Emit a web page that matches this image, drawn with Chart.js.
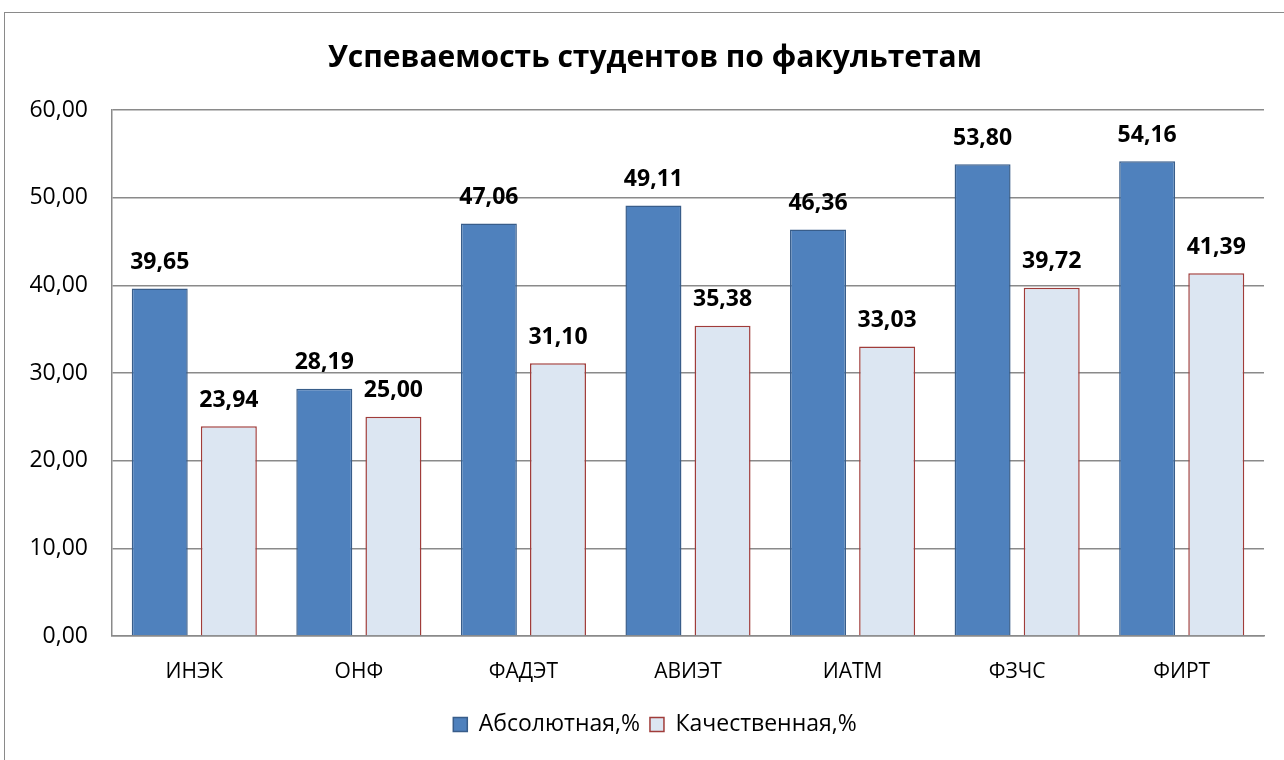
<!DOCTYPE html>
<html lang="ru">
<head>
<meta charset="utf-8">
<title>Успеваемость студентов по факультетам</title>
<script src="https://cdn.jsdelivr.net/npm/chart.js@4"></script>
<style>
    html, body { margin: 0; padding: 0; background: #fff; overflow: hidden; }
    #frame {
        position: absolute; left: 4px; top: 12px;
        width: 1302px; height: 800px;
        border: 1.5px solid #8a8a8a;
        box-sizing: border-box;
    }
    #wrap { position: absolute; left: 0; top: 0; width: 1310px; height: 760px; }
</style>
</head>
<body>
<div id="frame"></div>
<div id="wrap"><canvas id="chart" width="1310" height="760"></canvas></div>
<script>
// ── Data ──
const faculties = ['ИНЭК', 'ОНФ', 'ФАДЭТ', 'АВИЭТ', 'ИАТМ', 'ФЗЧС', 'ФИРТ'];
const absolute = [39.65, 28.19, 47.06, 49.11, 46.36, 53.80, 54.16];
const quality = [23.94, 25.00, 31.10, 35.38, 33.03, 39.72, 41.39];
const seriesNames = ['Абсолютная,%', 'Качественная,%'];
const chartTitle = 'Успеваемость студентов по факультетам';

const FONT = "'Open Sans', 'Noto Sans', sans-serif";
const fmt = v => v.toFixed(2).replace('.', ',');

// ── Value labels above bars ──
const valueLabels = {
    id: 'valueLabels',
    afterDatasetsDraw(chart) {
        const ctx = chart.ctx;
        ctx.save();
        ctx.font = `bold 23px ${FONT}`;
        ctx.fillStyle = '#000';
        ctx.textAlign = 'center';
        ctx.textBaseline = 'middle';
        chart.data.datasets.forEach((ds, i) => {
            chart.getDatasetMeta(i).data.forEach((bar, j) => {
                ctx.fillText(fmt(ds.data[j]), bar.x, bar.y - 26);
            });
        });
        ctx.restore();
    }
};

new Chart(document.getElementById('chart'), {
    type: 'bar',
    data: {
        labels: faculties,
        datasets: [
            {
                label: seriesNames[0],
                data: absolute,
                backgroundColor: '#4f81bd',
                borderColor: '#385d8a',
                borderWidth: 1.5
            },
            {
                label: seriesNames[1],
                data: quality,
                backgroundColor: '#dce6f2',
                borderColor: '#a03c3a',
                borderWidth: 1.5
            }
        ]
    },
    options: {
        responsive: false,
        animation: false,
        layout: { padding: { left: 0, right: 0, top: 0, bottom: 14 } },
        datasets: {
            bar: { categoryPercentage: 0.84, barPercentage: 0.81 }
        },
        scales: {
            x: {
                grid: { display: false, drawTicks: false },
                border: { display: true, color: '#8a8a8a', width: 1.5 },
                ticks: { color: '#000', font: { family: FONT, size: 21 }, padding: 23 },
                afterFit(scale) { scale.height = 67; }
            },
            y: {
                min: 0,
                max: 60,
                grid: { color: '#8a8a8a', lineWidth: 1.5, drawTicks: false },
                border: { display: true, color: '#8a8a8a', width: 1.5 },
                ticks: {
                    stepSize: 10,
                    color: '#000',
                    font: { family: FONT, size: 23 },
                    padding: 24,
                    callback: v => fmt(v)
                },
                afterFit(scale) { scale.width = 112; }
            },
            // empty right-hand spacer so title and legend stay centred on the whole frame
            spacer: {
                type: 'linear',
                position: 'right',
                grid: { display: false, drawTicks: false },
                border: { display: false },
                ticks: { display: false },
                afterFit(scale) { scale.width = 46; }
            }
        },
        plugins: {
            title: {
                display: true,
                text: chartTitle,
                color: '#000',
                font: { family: FONT, size: 30, weight: 'bold' },
                padding: { top: 40, bottom: 34 }
            },
            legend: {
                position: 'bottom',
                labels: {
                    color: '#000',
                    font: { family: FONT, size: 23 },
                    boxWidth: 14,
                    boxHeight: 14,
                    padding: 10
                }
            },
            tooltip: { enabled: false }
        }
    },
    plugins: [valueLabels]
});
</script>
</body>
</html>
